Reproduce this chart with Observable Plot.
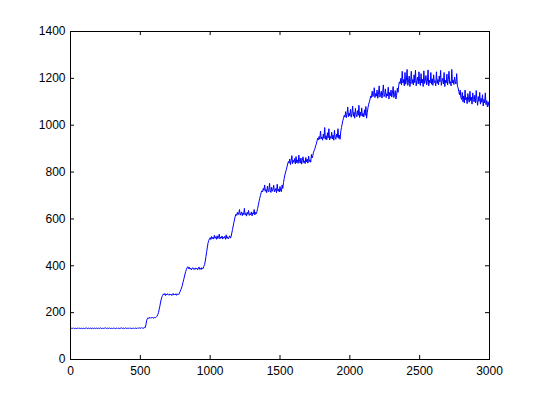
<!DOCTYPE html>
<html><head><meta charset="utf-8">
<script src="https://cdn.jsdelivr.net/npm/d3@7"></script>
<script src="https://cdn.jsdelivr.net/npm/@observablehq/plot@0.6"></script>
<style>html,body{margin:0;padding:0;background:#fff;}</style>
</head><body><div id="chart"></div>
<script>
// sample spacing along x (index units)
const xStep = 5;
// values, one every 5 units from 0 to 3000 (20 per row = 100 units)
const yValues = [
  133,134,132,133,135,132,133,134,131,133,134,132,135,133,132,134,133,131,134,133,
  132,134,133,135,132,133,134,132,133,135,131,133,134,132,133,135,132,134,133,132,
  134,132,133,135,133,131,134,133,132,134,136,132,133,134,132,133,135,132,134,133,
  132,135,133,134,131,133,134,132,135,133,132,134,133,136,132,133,134,132,133,135,
  133,132,134,133,135,132,134,133,131,134,133,135,132,134,133,132,135,134,133,135,
  134,133,136,134,135,133,137,136,148,165,174,178,175,180,176,179,177,181,178,176,
  180,177,179,182,185,192,200,215,228,245,258,268,274,280,276,282,273,279,275,281,
  277,274,280,276,279,273,278,282,275,279,276,281,274,278,280,277,284,290,298,305,
  315,328,340,352,365,376,385,392,396,388,394,386,390,383,388,392,385,389,384,391,
  386,390,383,388,395,385,389,384,392,386,390,398,405,420,440,460,480,498,508,515,
  520,512,525,516,522,514,530,518,524,513,528,516,521,535,515,523,518,527,514,522,
  519,526,513,532,517,524,515,521,528,518,525,540,555,570,585,600,612,620,615,628,
  618,625,640,616,622,630,614,626,619,645,617,624,612,628,620,636,615,622,618,630,
  613,626,621,640,617,628,622,632,645,660,675,688,700,712,720,715,730,722,745,718,
  725,712,740,720,716,752,721,713,735,718,726,744,715,722,730,712,748,719,727,715,
  738,720,716,745,730,755,772,788,800,810,822,835,845,838,856,832,848,870,836,850,
  842,858,835,866,840,852,837,872,845,838,860,834,850,865,840,848,836,862,843,855,
  838,868,845,852,842,875,860,870,885,892,900,912,920,932,945,938,952,940,975,942,
  950,936,962,944,990,940,955,938,968,946,985,937,952,944,970,941,958,936,978,945,
  940,962,948,985,944,958,940,972,990,1005,1020,1030,1042,1035,1058,1032,1048,1078,1036,1052,
  1040,1068,1034,1050,1082,1038,1055,1030,1072,1045,1036,1062,1042,1085,1033,1056,1040,1074,1038,1050,
  1035,1066,1042,1080,1030,1055,1075,1090,1100,1112,1125,1118,1145,1122,1130,1160,1118,1135,1124,1150,
  1115,1132,1168,1120,1128,1145,1116,1138,1172,1122,1130,1155,1118,1135,1125,1162,1112,1140,1126,1150,
  1120,1135,1165,1118,1130,1148,1112,1128,1158,1140,1170,1185,1178,1200,1172,1230,1180,1195,1168,1225,
  1175,1192,1238,1170,1188,1210,1165,1185,1230,1178,1195,1172,1215,1182,1235,1168,1190,1205,1176,1228,
  1185,1170,1220,1180,1196,1165,1232,1178,1190,1212,1172,1186,1236,1168,1192,1180,1225,1175,1198,1170,
  1215,1182,1190,1168,1228,1178,1195,1172,1210,1185,1234,1170,1188,1200,1176,1225,1165,1192,1180,1218,
  1172,1195,1230,1178,1186,1168,1238,1180,1192,1174,1205,1185,1176,1220,1168,1160,1145,1130,1150,1118,
  1110,1140,1100,1125,1095,1150,1108,1118,1092,1135,1112,1098,1145,1105,1120,1090,1138,1110,1100,1128,
  1095,1148,1108,1085,1122,1102,1140,1090,1115,1098,1130,1082,1110,1095,1138,1088,1105,1078,1100,1085,
  1075
];
const xTicks = [0, 500, 1000, 1500, 2000, 2500, 3000];
const yTicks = [0, 200, 400, 600, 800, 1000, 1200, 1400];

const data = yValues.map((v, i) => ({x: i * xStep, y: v}));

const W = 540, H = 404, mL = 70, mR = 51, mT = 31, mB = 45;
const pw = W - mL - mR, ph = H - mT - mB, tk = 4;

const chart = Plot.plot({
  width: W, height: H,
  marginLeft: mL, marginRight: mR, marginTop: mT, marginBottom: mB,
  style: {fontFamily: "'Liberation Sans', Arial, sans-serif", fontSize: "12px", background: "#fff", color: "#000", overflow: "visible"},
  x: {domain: [0, 3000], label: null},
  y: {domain: [0, 1400], label: null},
  marks: [
    Plot.lineY(data, {x: "x", y: "y", stroke: "#0000ff", strokeWidth: 1}),
    Plot.ruleX(xTicks, {stroke: "#000", insetTop: ph - tk}),
    Plot.ruleX(xTicks, {stroke: "#000", insetBottom: ph - tk}),
    Plot.ruleY(yTicks, {stroke: "#000", insetRight: pw - tk}),
    Plot.ruleY(yTicks, {stroke: "#000", insetLeft: pw - tk}),
    Plot.frame({stroke: "#000"}),
    Plot.axisX({ticks: xTicks, tickSize: 0, tickPadding: 7, tickFormat: d => String(d), label: null}),
    Plot.axisY({ticks: yTicks, tickSize: 0, tickPadding: 5, tickFormat: d => String(d), label: null})
  ]
});
document.getElementById("chart").appendChild(chart);
</script>
</body></html>
